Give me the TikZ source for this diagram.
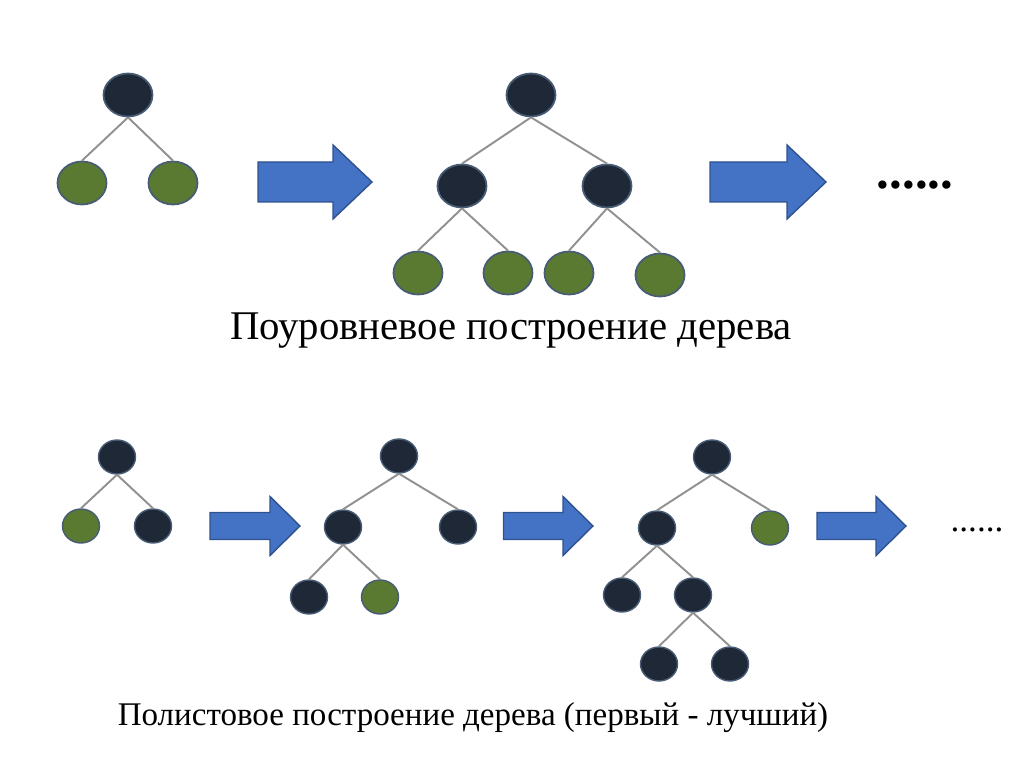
\documentclass[tikz,border=0pt]{standalone}
\usepackage{fontspec}
\setmainfont{Liberation Serif}
\usepackage{xcolor}
\usetikzlibrary{shapes.geometric}
\definecolor{knotdark}{RGB}{30,40,55}
\definecolor{leafgreen}{RGB}{90,122,50}
\definecolor{knotline}{RGB}{72,92,118}
\definecolor{branchgray}{RGB}{145,145,145}
\definecolor{arrowblue}{RGB}{68,114,196}
\definecolor{arrowline}{RGB}{47,82,143}
\tikzset{
  bignode/.style={ellipse, draw=knotline, line width=1pt, inner sep=0pt, minimum width=0.98cm, minimum height=0.86cm},
  smallnode/.style={ellipse, draw=knotline, line width=0.8pt, inner sep=0pt, minimum width=0.74cm, minimum height=0.68cm},
  dark/.style={fill=knotdark},
  green/.style={fill=leafgreen},
  branch/.style={draw=branchgray, line width=1.1pt},
  blockarrow/.style={fill=arrowblue, draw=arrowline, line width=0.8pt}
}

\begin{document}
\begin{tikzpicture}
\useasboundingbox (0,0) rectangle (20.64,15.26);
%\draw [help lines] (0,0) grid (20,15);
% level by level
\node [bignode, dark] (a0) at (2.56,13.36) {};
\node [bignode, green] (a1) at (1.64,11.60) {};
\node [bignode, green] (a2) at (3.46,11.60) {};
\draw [branch] (a0.south) -- (a1.north);
\draw [branch] (a0.south) -- (a2.north);
\draw [blockarrow] (5.16,11.22) -- (6.66,11.22) -- (6.66,10.88) -- (7.44,11.62) -- (6.66,12.36) -- (6.66,12.02) -- (5.16,12.02) -- cycle;
\node [bignode, dark] (b0) at (10.62,13.36) {};
\node [bignode, dark] (b1) at (9.24,11.54) {};
\node [bignode, dark] (b2) at (12.14,11.54) {};
\node [bignode, green] (b11) at (8.36,9.80) {};
\node [bignode, green] (b12) at (10.16,9.80) {};
\node [bignode, green] (b21) at (11.38,9.80) {};
\node [bignode, green] (b22) at (13.20,9.76) {};
\draw [branch] (b0.south) -- (b1.north);
\draw [branch] (b0.south) -- (b2.north);
\draw [branch] (b1.south) -- (b11.north);
\draw [branch] (b1.south) -- (b12.north);
\draw [branch] (b2.south) -- (b21.north);
\draw [branch] (b2.south) -- (b22.north);
\draw [blockarrow] (14.20,11.22) -- (15.74,11.22) -- (15.74,10.88) -- (16.52,11.62) -- (15.74,12.36) -- (15.74,12.02) -- (14.20,12.02) -- cycle;
\node (topdots) at (18.30,11.56) {\fontsize{29}{29}\selectfont\bfseries ......};
\node (toptitle) at (10.22,8.64) {\fontsize{23.2}{27}\selectfont Поуровневое построение дерева};
% leaf by leaf
\node [smallnode, dark] (c0) at (2.34,6.12) {};
\node [smallnode, green] (c1) at (1.62,4.74) {};
\node [smallnode, dark] (c2) at (3.06,4.74) {};
\draw [branch] (c0.south) -- (c1.north);
\draw [branch] (c0.south) -- (c2.north);
\draw [blockarrow] (4.20,4.47) -- (5.40,4.47) -- (5.40,4.15) -- (6.00,4.74) -- (5.40,5.33) -- (5.40,5.01) -- (4.20,5.01) -- cycle;
\node [smallnode, dark] (d0) at (7.98,6.14) {};
\node [smallnode, dark] (d1) at (6.86,4.72) {};
\node [smallnode, dark] (d2) at (9.16,4.72) {};
\node [smallnode, dark] (d11) at (6.18,3.32) {};
\node [smallnode, green] (d12) at (7.60,3.32) {};
\draw [branch] (d0.south) -- (d1.north);
\draw [branch] (d0.south) -- (d2.north);
\draw [branch] (d1.south) -- (d11.north);
\draw [branch] (d1.south) -- (d12.north);
\draw [blockarrow] (10.07,4.47) -- (11.26,4.47) -- (11.26,4.15) -- (11.86,4.74) -- (11.26,5.33) -- (11.26,5.01) -- (10.07,5.01) -- cycle;
\node [smallnode, dark] (e0) at (14.24,6.12) {};
\node [smallnode, dark] (e1) at (13.14,4.70) {};
\node [smallnode, green] (e2) at (15.40,4.70) {};
\node [smallnode, dark] (e11) at (12.44,3.36) {};
\node [smallnode, dark] (e12) at (13.86,3.36) {};
\node [smallnode, dark] (e121) at (13.18,1.98) {};
\node [smallnode, dark] (e122) at (14.60,1.98) {};
\draw [branch] (e0.south) -- (e1.north);
\draw [branch] (e0.south) -- (e2.north);
\draw [branch] (e1.south) -- (e11.north);
\draw [branch] (e1.south) -- (e12.north);
\draw [branch] (e12.south) -- (e121.north);
\draw [branch] (e12.south) -- (e122.north);
\draw [blockarrow] (16.34,4.47) -- (17.52,4.47) -- (17.52,4.15) -- (18.12,4.74) -- (17.52,5.33) -- (17.52,5.01) -- (16.34,5.01) -- cycle;
\node (lowdots) at (19.54,4.66) {\fontsize{20}{20}\selectfont ......};
\node (lowtitle) at (9.46,0.90) {\fontsize{18.8}{22}\selectfont Полистовое построение дерева (первый - лучший)};
\end{tikzpicture}
\end{document}
